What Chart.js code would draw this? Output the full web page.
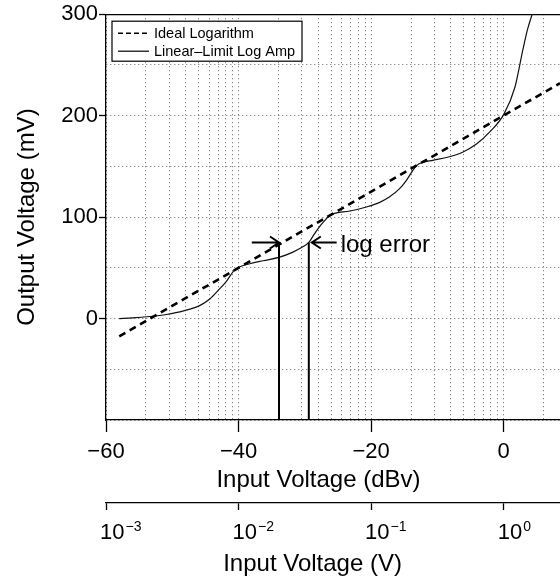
<!DOCTYPE html>
<html>
<head>
<meta charset="utf-8">
<script src="https://cdn.jsdelivr.net/npm/chart.js@4.4.1/dist/chart.umd.min.js"></script>
<style>
  html, body { margin: 0; padding: 0; background: #fff; }
  #contenedor { width: 560px; height: 580px; }
</style>
</head>
<body>
<div id="contenedor"><canvas id="grafico"></canvas></div>
<script>
//Datos
const idealDbv = [-58, 8.5];
const idealMv = [-17.5, 232];

const ampDbv = [-58, -56, -53.4, -50.9, -48.3, -45.8, -44.3, -43.1, -41.8, -40.6,
                -39.8, -38.3, -36.3, -33.8, -31.8, -30.5, -29.4, -28.6, -27.6, -26.8, -26.2,
                -23.2, -20.7, -18.7, -17.2, -15.7, -14.7, -13.7, -13.1,
                -12.2, -10.7, -8.5, -6.2, -4.1, -2.1, 0, 1.7, 2.9, 3.6, 4.4];
const ampMv = [0, 0.6, 2, 4, 7.5, 13, 19.5, 27.5, 37, 48,
               51, 54, 57, 60.5, 65.5, 70, 75, 83, 92, 98, 102,
               106, 110, 114.5, 120, 128, 136, 146, 151,
               154, 156, 159, 164, 172, 184, 201, 228, 265, 285, 302];

const dbvTicks = [-60, -40, -20, 0];
const mvTicks = [0, 100, 200, 300];
const mvGrid = [-100, -50, 0, 50, 100, 150, 200, 250, 300];
const voltTicks = [0.001, 0.01, 0.1, 1];
const voltBase = '10';
const voltExponents = ['\u22123', '\u22122', '\u22121', '0'];

//Anotación "log error"
const errorLevel = 75;
const errorAt = [-33.9, -29.4];
const errorTails = [-38, -25.2];
const errorText = 'log error';

const xMin = -60, xMax = 8.5, yMin = -100, yMax = 300;
const fuente = '"Liberation Sans", Arial, Helvetica, sans-serif';

Chart.defaults.font.family = fuente;
Chart.defaults.color = '#000';

//Función para las líneas de rejilla logarítmicas en dBV
function dbvGrid() {
    let out = [];
    for (let d = -3; d <= 0; d++) {
        for (let k = 1; k <= 9; k++) {
            let v = 20 * Math.log10(k * Math.pow(10, d));
            if (v <= xMax + 1e-9) out.push(v);
        }
    }
    return out;
}

function esMayor(lista, v) {
    return lista.some(t => Math.abs(t - v) < 1e-6);
}

function etiquetaDbv(v) {
    if (!esMayor(dbvTicks, v)) return '';
    let r = Math.round(v);
    return r < 0 ? '\u2212' + Math.abs(r) : String(r);
}

//Función para dibujar una flecha abierta
function flecha(ctx, xFrom, xTo, y) {
    const dir = Math.sign(xTo - xFrom);
    ctx.beginPath();
    ctx.moveTo(xFrom, y);
    ctx.lineTo(xTo, y);
    ctx.moveTo(xTo - dir * 9, y - 6);
    ctx.lineTo(xTo, y);
    ctx.lineTo(xTo - dir * 9, y + 6);
    ctx.stroke();
}

const leyenda = {
    id: 'leyenda',
    afterDatasetsDraw(chart) {
        const ctx = chart.ctx, a = chart.chartArea;
        const x0 = a.left + 6, y0 = a.top + 7, w = 190, h = 40;
        ctx.save();
        ctx.fillStyle = '#fff';
        ctx.fillRect(x0, y0, w, h);
        ctx.strokeStyle = '#000';
        ctx.lineWidth = 1.2;
        ctx.strokeRect(x0, y0, w, h);
        ctx.font = '14.5px ' + fuente;
        ctx.fillStyle = '#000';
        ctx.textBaseline = 'middle';
        ctx.textAlign = 'left';
        chart.data.datasets.forEach((ds, i) => {
            const yy = y0 + 12 + i * 18;
            ctx.beginPath();
            ctx.setLineDash(i === 0 ? [5, 3] : []);
            ctx.lineWidth = i === 0 ? 1.6 : 1.2;
            ctx.moveTo(x0 + 6, yy);
            ctx.lineTo(x0 + 37, yy);
            ctx.stroke();
            ctx.setLineDash([]);
            ctx.fillText(ds.label, x0 + 42, yy + 1);
        });
        ctx.restore();
    }
};

const anotaciones = {
    id: 'anotaciones',
    afterDatasetsDraw(chart) {
        const ctx = chart.ctx;
        const x = chart.scales.x, y = chart.scales.y;
        const yl = y.getPixelForValue(errorLevel);
        const yb = y.getPixelForValue(yMin);
        ctx.save();
        ctx.strokeStyle = '#000';
        ctx.lineWidth = 2;
        errorAt.forEach((v, i) => {
            const px = x.getPixelForValue(v);
            ctx.beginPath();
            ctx.moveTo(px, yl);
            ctx.lineTo(px, yb);
            ctx.stroke();
            flecha(ctx, x.getPixelForValue(errorTails[i]), px + (i === 0 ? 0 : 3), yl);
        });
        ctx.fillStyle = '#000';
        ctx.font = '24px ' + fuente;
        ctx.textAlign = 'left';
        ctx.textBaseline = 'alphabetic';
        ctx.fillText(errorText, x.getPixelForValue(errorTails[1]) + 4, yl + 10);
        ctx.restore();
    },
    afterDraw(chart) {
        const ctx = chart.ctx;
        const x = chart.scales.x, xV = chart.scales.xV;
        ctx.save();
        ctx.fillStyle = '#000';
        ctx.textBaseline = 'alphabetic';
        ctx.textAlign = 'left';
        //Etiquetas 10^n con exponente elevado
        voltTicks.forEach((v, i) => {
            const px = xV.getPixelForValue(v) - 6;
            ctx.font = '22px ' + fuente;
            ctx.fillText(voltBase, px, xV.top + 36);
            const w = ctx.measureText(voltBase).width;
            ctx.font = '14px ' + fuente;
            ctx.fillText(voltExponents[i], px + w + 1, xV.top + 28);
        });
        //Títulos de los ejes horizontales
        ctx.font = '24px ' + fuente;
        ctx.textAlign = 'center';
        ctx.fillText('Input Voltage (dBv)', x.left + x.width * 0.468, x.bottom - 16);
        ctx.fillText('Input Voltage (V)', xV.left + xV.width * 0.455, xV.bottom - 9);
        ctx.restore();
    }
};

const contexto = document.getElementById('grafico');
const grafico = new Chart(contexto, {
    type: 'line',
    data: {
        datasets: [
            {
                label: 'Ideal Logarithm',
                data: idealDbv.map((v, i) => ({x: v, y: idealMv[i]})),
                borderColor: '#000',
                borderWidth: 2.6,
                borderDash: [7, 5],
                pointRadius: 0,
                fill: false
            },
            {
                label: 'Linear\u2013Limit Log Amp',
                data: ampDbv.map((v, i) => ({x: v, y: ampMv[i]})),
                borderColor: '#111',
                borderWidth: 1.2,
                pointRadius: 0,
                cubicInterpolationMode: 'monotone',
                fill: false
            }
        ]
    },
    options: {
        responsive: true,
        maintainAspectRatio: false,
        animation: false,
        devicePixelRatio: 1,
        layout: { padding: { top: 14, right: 0, bottom: 0, left: 0 } },
        plugins: {
            legend: { display: false },
            tooltip: { enabled: false }
        },
        scales: {
            x: {
                type: 'linear',
                position: 'bottom',
                weight: 0,
                min: xMin,
                max: xMax,
                bounds: 'data',
                afterBuildTicks: s => { s.ticks = dbvGrid().map(v => ({value: v})); },
                afterFit: s => { s.height = 83; },
                ticks: {
                    autoSkip: false,
                    maxRotation: 0,
                    padding: 7,
                    font: { size: 22 },
                    callback: v => etiquetaDbv(v)
                },
                grid: {
                    color: '#666',
                    lineWidth: 1,
                    tickLength: 12,
                    tickWidth: 1.3,
                    tickColor: c => (c.tick && esMayor(dbvTicks, c.tick.value)) ? '#000' : 'rgba(0,0,0,0)'
                },
                border: { display: true, color: '#000', width: 1.3, dash: [1, 3] }
            },
            xV: {
                type: 'logarithmic',
                position: 'bottom',
                weight: 1,
                min: Math.pow(10, xMin / 20),
                max: Math.pow(10, xMax / 20),
                bounds: 'data',
                afterBuildTicks: s => { s.ticks = voltTicks.map(v => ({value: v})); },
                afterFit: s => { s.height = 77; },
                ticks: {
                    autoSkip: false,
                    maxRotation: 0,
                    callback: () => ''
                },
                grid: { display: true, drawOnChartArea: false, tickLength: 7, tickWidth: 1.3, tickColor: '#000' },
                border: { display: true, color: '#000', width: 1.3 }
            },
            xTop: {
                type: 'linear',
                position: 'top',
                min: xMin,
                max: xMax,
                afterFit: s => { s.height = 0; },
                ticks: { display: false },
                grid: { display: false, drawTicks: false },
                border: { display: true, color: '#000', width: 1.3 }
            },
            y: {
                type: 'linear',
                position: 'left',
                min: yMin,
                max: yMax,
                afterBuildTicks: s => { s.ticks = mvGrid.map(v => ({value: v})); },
                afterFit: s => { s.width = 106; },
                ticks: {
                    autoSkip: false,
                    padding: 1,
                    font: { size: 22 },
                    callback: v => esMayor(mvTicks, v) ? String(v) : ''
                },
                grid: {
                    color: '#666',
                    lineWidth: 1,
                    tickLength: 7,
                    tickWidth: 1.3,
                    tickColor: c => (c.tick && esMayor(mvTicks, c.tick.value)) ? '#000' : 'rgba(0,0,0,0)'
                },
                border: { display: true, color: '#000', width: 1.3, dash: [1, 3] },
                title: {
                    display: true,
                    text: 'Output Voltage (mV)',
                    font: { size: 24 },
                    padding: { top: 13, bottom: 0 }
                }
            }
        }
    },
    plugins: [leyenda, anotaciones]
});
</script>
</body>
</html>
